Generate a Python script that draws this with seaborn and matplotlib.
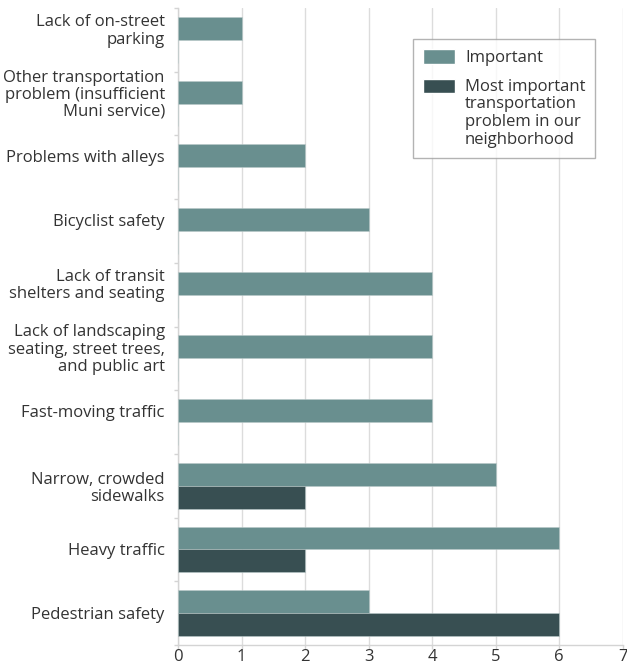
import pandas as pd
import seaborn as sns
import matplotlib.pyplot as plt
from matplotlib.patches import Patch, Rectangle
from matplotlib.legend_handler import HandlerPatch

# Dados
categorias = [
    "Lack of on-street\nparking",
    "Other transportation\nproblem (insufficient\nMuni service)",
    "Problems with alleys",
    "Bicyclist safety",
    "Lack of transit\nshelters and seating",
    "Lack of landscaping\nseating, street trees,\nand public art",
    "Fast-moving traffic",
    "Narrow, crowded\nsidewalks",
    "Heavy traffic",
    "Pedestrian safety",
]
importante = [1, 1, 2, 3, 4, 4, 4, 5, 6, 3]
mais_importante = [0, 0, 0, 0, 0, 0, 0, 2, 2, 6]
series = ["Important",
          "Most important\ntransportation\nproblem in our\nneighborhood"]
cores = ["#698f8f", "#384f52"]
x_ticks = [0, 1, 2, 3, 4, 5, 6, 7]

df = pd.DataFrame({
    "categoria": categorias * 2,
    "valor": importante + mais_importante,
    "serie": [series[0]] * len(categorias) + [series[1]] * len(categorias),
})

sns.set_style("white")
plt.rcParams["font.family"] = ["Open Sans", "DejaVu Sans"]
plt.rcParams["text.color"] = "#333333"
FS = 12

fig = plt.figure(figsize=(6.27, 6.68), dpi=100)
ax = fig.add_axes([0.284, 0.0344, 0.709, 0.9536])

largura = 0.72
sns.barplot(data=df, y="categoria", x="valor", hue="serie", orient="h",
            order=categorias, hue_order=series, palette=cores, saturation=1,
            width=largura, dodge=True, edgecolor="#b9c9c9", linewidth=0.4,
            ax=ax, zorder=3, legend=False)

# Rótulos: no centro da barra quando só há uma série, senão no centro do grupo
pos_rotulos = [i if m > 0 else i - largura / 4
               for i, m in enumerate(mais_importante)]
ax.set_yticks(pos_rotulos)
ax.set_yticklabels(categorias, fontsize=FS, linespacing=1.1)
ax.set_yticks([i - 0.5 for i in range(len(categorias) + 1)], minor=True)
ax.tick_params(axis="y", which="major", length=0, pad=9.5, colors="#333333")
ax.tick_params(axis="y", which="minor", left=True, length=3, width=1, color="#d4d4d4")
ax.set_ylim(len(categorias) - 0.5, -0.5)

ax.set_xlim(0, 7)
ax.set_xticks(x_ticks)
ax.set_xticklabels([str(t) for t in x_ticks], fontsize=FS)
ax.tick_params(axis="x", bottom=True, length=3, width=1, color="#d4d4d4",
               labelcolor="#333333", pad=0)
ax.grid(axis="x", color="#dcdcdc", linewidth=1, zorder=0)
ax.grid(axis="y", visible=False)

for lado in ["top", "right"]:
    ax.spines[lado].set_visible(False)
for lado in ["left", "bottom"]:
    ax.spines[lado].set_color("#d4d4d4")
    ax.spines[lado].set_linewidth(1)

ax.set_xlabel("")
ax.set_ylabel("")

ESPACO_LEG = 1.14


# Legenda: quadrado alinhado com a primeira linha do texto
def quadrado_topo(legend, orig_handle, xdescent, ydescent, width, height, fontsize):
    n_linhas = orig_handle.get_label().count("\n")
    desloc = n_linhas * 0.5 * ESPACO_LEG * fontsize * 0.96
    return Rectangle((-xdescent, -ydescent + desloc), width, height)


alcas = [Patch(facecolor=c, label=s) for c, s in zip(cores, series)]
leg = ax.legend(handles=alcas, loc="upper right", bbox_to_anchor=(0.939, 0.951),
                borderaxespad=0, fontsize=FS, frameon=True, fancybox=False,
                edgecolor="#a0a0a0", handlelength=1.92, handleheight=0.96,
                handletextpad=0.62, borderpad=0.6, labelspacing=0.75,
                handler_map={Patch: HandlerPatch(patch_func=quadrado_topo)})
leg.get_frame().set_linewidth(1)
for t in leg.get_texts():
    t.set_color("#333333")
    t.set_linespacing(ESPACO_LEG)

plt.savefig("out.png", dpi=100)
